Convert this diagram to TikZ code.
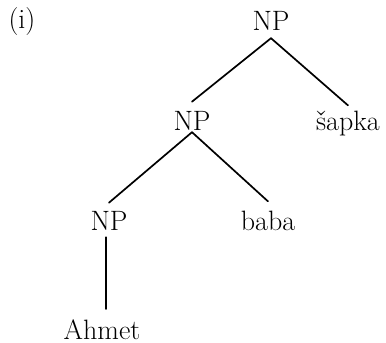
\documentclass[tikz,border=0pt]{standalone}
\usepackage{fontspec}
\setmainfont{Latin Modern Roman}
\begin{document}
\begin{tikzpicture}[x=1pt,y=-1pt,
  lbl/.style={inner sep=0pt,anchor=base,font=\fontsize{28}{32}\selectfont},
  edge/.style={line width=1.7pt,line cap=round}]
\useasboundingbox (0,0) rectangle (386,343);
\node[lbl] (ex) at (22,28) {(i)};
\node[lbl] (top) at (271,30) {NP};
\node[lbl] (mid) at (192,130) {NP};
\node[lbl] (sapka) at (348,130) {šapka};
\node[lbl] (npb) at (109,230) {NP};
\node[lbl] (baba) at (268,230) {baba};
\node[lbl] (ahmet) at (102,339) {Ahmet};
\draw[edge] ([yshift=-8pt]top.south) -- ([yshift=9pt]mid.north);
\draw[edge] ([yshift=-8pt]top.south) -- ([yshift=5pt]sapka.north);
\draw[edge] ([yshift=-2pt]mid.south) -- ([yshift=8pt]npb.north);
\draw[edge] ([yshift=-2pt]mid.south) -- ([yshift=9pt]baba.north);
\draw[edge] ([xshift=-3pt,yshift=-7pt]npb.south) -- ([xshift=-3pt,yshift=10pt]npb.south |- ahmet.north);
\end{tikzpicture}
\end{document}
